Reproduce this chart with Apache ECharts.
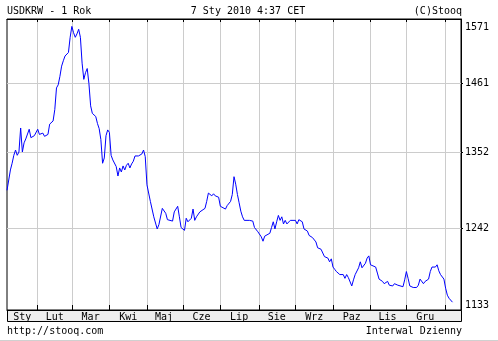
<!DOCTYPE html>
<html><head><meta charset="utf-8">
<script src="https://cdn.jsdelivr.net/npm/echarts@6/dist/echarts.min.js"></script>
<style>html,body{margin:0;padding:0;background:#fff}#c{width:498px;height:341px}</style>
</head><body><div id="c"></div>
<script>
const monthNames = ['Sty','Lut','Mar','Kwi','Maj','Cze','Lip','Sie','Wrz','Paz','Lis','Gru'];
const yTickLabels = [1133, 1242, 1352, 1461, 1571];
const yGridValues = [1242, 1352, 1461];
// trading-day index (weekdays counted from 2009-01-07) of each sampled point
const tradingDay = [
  0,2,3,4,5,6,7,8,9,10,11,12,13,14,16,18,19,21,22,24,
  25,27,28,29,30,31,32,33,34,35,36,37,38,39,40,41,42,43,44,45,
  46,47,48,49,50,51,52,53,54,55,56,57,58,59,60,61,62,63,64,65,
  66,67,68,69,70,71,72,73,74,75,76,77,78,79,80,81,82,84,86,88,
  89,90,91,93,94,95,97,98,100,101,102,103,104,105,106,108,109,110,111,113,
  114,116,117,118,119,120,121,122,124,125,126,128,129,131,132,133,134,135,136,137,
  138,139,142,144,145,146,147,149,150,151,152,154,155,156,157,158,159,160,161,162,
  163,164,166,167,169,170,171,173,174,176,177,178,179,181,182,184,185,186,188,189,
  190,191,192,193,195,197,198,199,200,202,203,204,206,207,208,210,211,212,213,214,
  216,217,218,220,221,223,224,226,227,229,230,232,233,234,235,236,238,240,241,242,
  243,244,245,247,248,249,250,251,252,253,254,255,256,257,258,259,261
];
const usdkrw = [
  1296,1326,1336,1348,1356,1348,1353,1390,1353,1367,1373,1375,1388,1375,1378,1388,1380,1382,1377,1380,
  1396,1401,1419,1454,1459,1473,1490,1499,1507,1507,1513,1539,1558,1547,1539,1545,1553,1539,1495,1468,
  1479,1486,1461,1425,1413,1410,1408,1397,1389,1372,1336,1344,1378,1387,1383,1348,1341,1343,1331,1317,
  1329,1323,1332,1326,1333,1336,1329,1335,1339,1347,1344,1347,1345,1350,1356,1346,1304,1280,1258,1241,
  1247,1246,1270,1263,1254,1256,1252,1265,1273,1258,1243,1244,1239,1256,1251,1256,1269,1253,1258,1265,
  1263,1270,1280,1292,1293,1288,1291,1288,1286,1273,1274,1269,1274,1280,1290,1316,1305,1290,1278,1266,
  1258,1253,1253,1252,1243,1243,1237,1230,1224,1231,1229,1235,1243,1251,1241,1251,1260,1253,1258,1248,
  1253,1248,1253,1251,1253,1248,1254,1251,1241,1238,1232,1230,1229,1223,1215,1213,1211,1203,1201,1196,
  1200,1189,1186,1183,1179,1179,1174,1179,1175,1164,1172,1179,1188,1196,1188,1194,1201,1204,1192,1190,
  1189,1181,1173,1170,1167,1170,1165,1164,1167,1165,1166,1163,1172,1183,1174,1164,1162,1162,1165,1173,
  1174,1167,1170,1173,1183,1189,1191,1189,1192,1184,1179,1179,1173,1161,1152,1148,1143
];

// axis domain: weekdays 2009-01-07 .. 2010-01-14
const days = [];
for (let d = new Date(Date.UTC(2009,0,7)); d <= new Date(Date.UTC(2010,0,14)); d.setUTCDate(d.getUTCDate()+1)) {
  const wd = d.getUTCDay();
  if (wd === 0 || wd === 6) continue;
  days.push(d.toISOString().slice(0,10));
}
const boundaries = new Set();
const starts = [0];
for (let i = 1; i < days.length; i++) {
  if (days[i].slice(5,7) !== days[i-1].slice(5,7)) { boundaries.add(i); starts.push(i); }
}
const labelIdx = new Map();
for (let k = 0; k < starts.length - 1; k++) {
  const mid = Math.floor((starts[k] + starts[k+1]) / 2);
  labelIdx.set(mid, monthNames[+days[starts[k]].slice(5,7) - 1]);
}

const FONT = '"DejaVu Sans Mono", monospace';
const yMax = yTickLabels[yTickLabels.length - 1];
const chart = echarts.init(document.getElementById('c'), null, {renderer: 'canvas'});
chart.setOption({
  animation: false,
  backgroundColor: '#fff',
  grid: {left: 7, right: 37, top: 19, bottom: 31, show: true, borderColor: '#000', borderWidth: 1, backgroundColor: 'transparent'},
  graphic: [
    {type: 'rect', z: -1, shape: {x: 7.5, y: 310.5, width: 454, height: 11}, style: {fill: '#eeeeee', stroke: '#000', lineWidth: 1}},
    {type: 'line', shape: {x1: 0, y1: 340.5, x2: 498, y2: 340.5}, style: {stroke: '#d0d0d0', lineWidth: 1}},
    {type: 'text', style: {text: 'USDKRW - 1 Rok', x: 7, y: 11.5, font: '10px ' + FONT, fill: '#000', align: 'left', textAlign: 'left', verticalAlign: 'middle', textVerticalAlign: 'middle'}},
    {type: 'text', style: {text: '7 Sty 2010 4:37 CET', x: 248, y: 11.5, font: '10px ' + FONT, fill: '#000', align: 'center', textAlign: 'center', verticalAlign: 'middle', textVerticalAlign: 'middle'}},
    {type: 'text', style: {text: '(C)Stooq', x: 462, y: 11.5, font: '10px ' + FONT, fill: '#000', align: 'right', textAlign: 'right', verticalAlign: 'middle', textVerticalAlign: 'middle'}},
    {type: 'text', style: {text: 'http://stooq.com', x: 7, y: 331.5, font: '10px ' + FONT, fill: '#000', align: 'left', textAlign: 'left', verticalAlign: 'middle', textVerticalAlign: 'middle'}},
    {type: 'text', style: {text: 'Interwal Dzienny', x: 462, y: 331.5, font: '10px ' + FONT, fill: '#000', align: 'right', textAlign: 'right', verticalAlign: 'middle', textVerticalAlign: 'middle'}}
  ],
  xAxis: [{
    type: 'category', data: days, boundaryGap: false, position: 'bottom',
    axisLine: {show: true, lineStyle: {color: '#000', width: 1}},
    axisTick: {show: true, inside: true, length: 5, interval: (i) => boundaries.has(i), lineStyle: {color: '#000'}},
    axisLabel: {show: true, interval: (i) => labelIdx.has(i), formatter: (v, i) => labelIdx.get(i) || '', margin: 2, fontSize: 10, lineHeight: 10, fontFamily: FONT, color: '#000'},
    splitLine: {show: true, interval: (i) => boundaries.has(i), lineStyle: {color: '#cccccc', width: 1}}
  }, {
    type: 'category', data: days, boundaryGap: false, position: 'top',
    axisLine: {show: true, lineStyle: {color: '#000', width: 1}},
    axisTick: {show: true, inside: true, length: 3, interval: (i) => boundaries.has(i), lineStyle: {color: '#000'}},
    axisLabel: {show: false}, splitLine: {show: false}
  }],
  yAxis: {
    type: 'log', logBase: 10, min: 1133, max: 1571, position: 'right',
    axisLine: {show: true, lineStyle: {color: '#000', width: 1}},
    axisTick: {show: true, inside: false, length: 2, customValues: yGridValues, lineStyle: {color: '#000'}},
    axisLabel: {show: true, customValues: yTickLabels, margin: 4, fontSize: 10, fontFamily: FONT, color: '#000',
      formatter: (v) => Math.round(v) === yMax ? '{top|' + yMax + '}' : String(Math.round(v)),
      rich: {top: {fontSize: 10, fontFamily: FONT, color: '#000', padding: [3, 0, 0, 0]}},
      verticalAlignMinLabel: 'bottom', verticalAlignMaxLabel: 'top'},
    splitLine: {show: true, lineStyle: {color: '#cccccc', width: 1}}
  },
  series: [{
    type: 'line', xAxisIndex: 0, showSymbol: false, symbol: 'none',
    data: tradingDay.map((d, i) => [d, usdkrw[i]]),
    lineStyle: {color: '#0000ff', width: 1}, itemStyle: {color: '#0000ff'}
  }]
});
</script></body></html>
